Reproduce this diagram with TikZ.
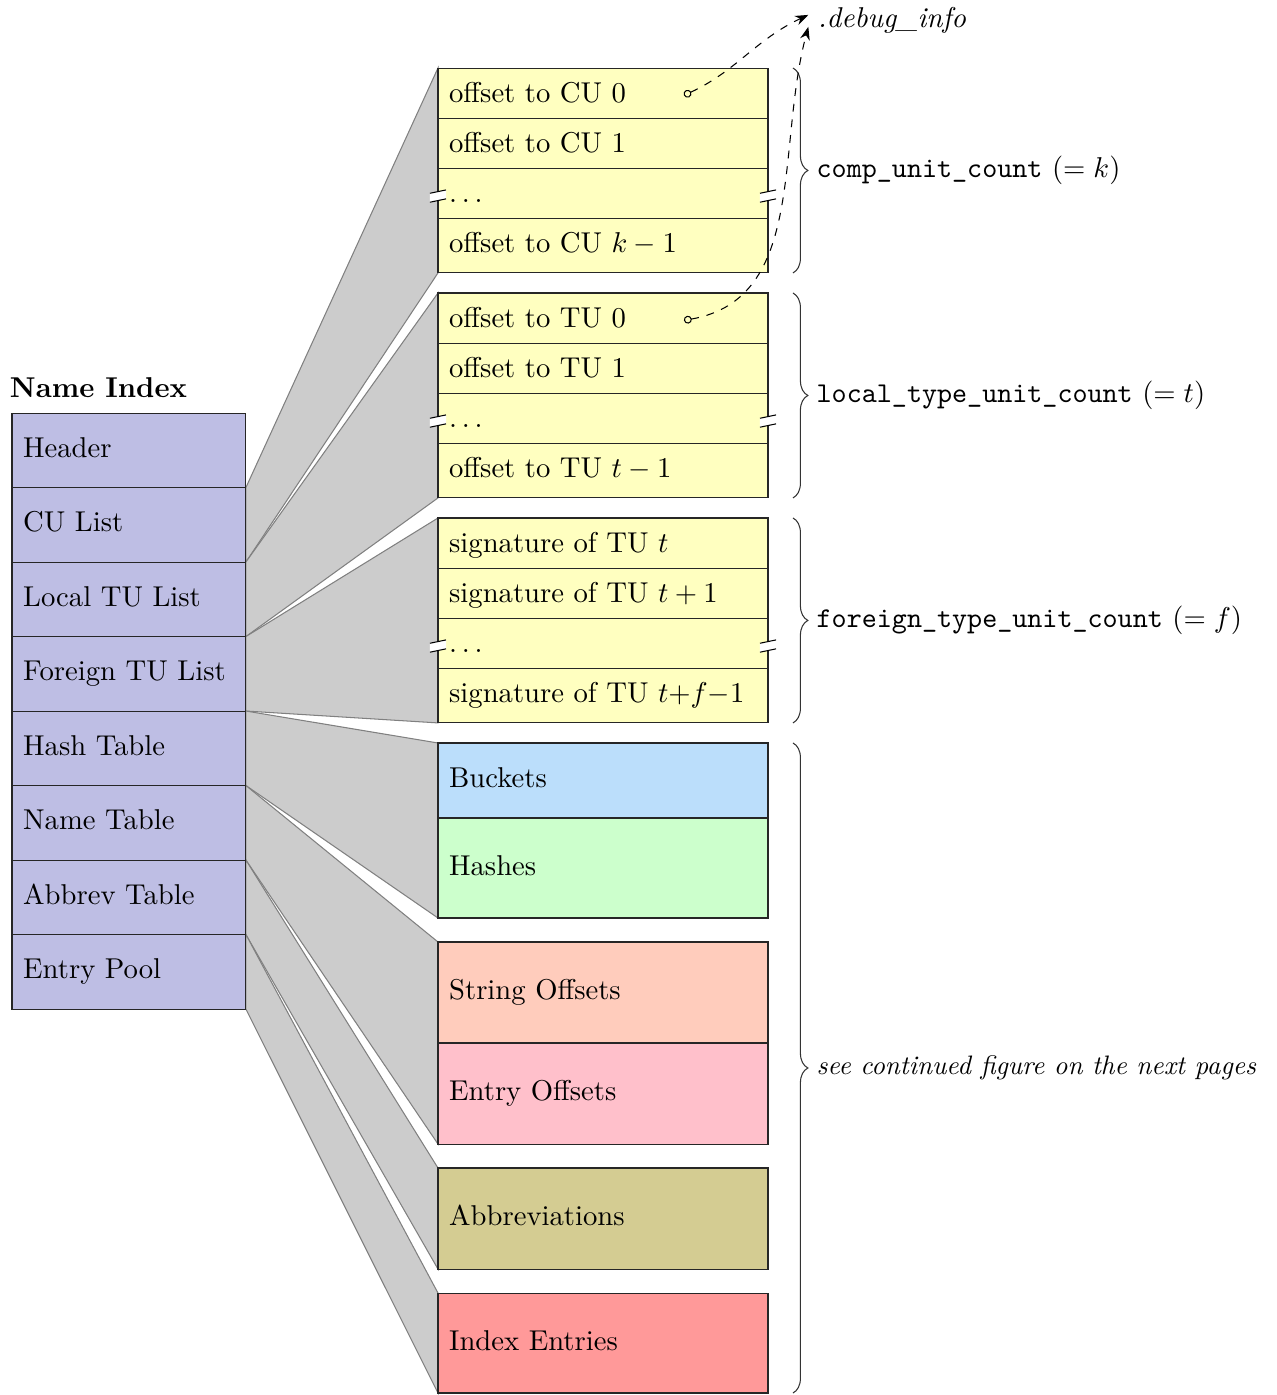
\documentclass[tikz,border=0pt,11pt]{standalone}
\usetikzlibrary{arrows.meta,decorations.pathreplacing,backgrounds}

\definecolor{nameIdx}{RGB}{190,190,228}
\definecolor{unitList}{RGB}{255,255,192}
\definecolor{bucketCol}{RGB}{187,222,251}
\definecolor{hashCol}{RGB}{204,255,204}
\definecolor{strOffCol}{RGB}{255,204,188}
\definecolor{entOffCol}{RGB}{255,192,203}
\definecolor{abbrevCol}{RGB}{212,204,146}
\definecolor{entryCol}{RGB}{255,153,153}

% small white break across a cell border
\newcommand\cellbreak[1]{%
  \fill[white] ([shift={(-0.108,-0.09)}]#1) -- ++(0.216,0.045) -- ++(0,0.12)
    -- ++(-0.216,-0.045) -- cycle;
  \draw ([shift={(-0.108,-0.09)}]#1) -- ++(0.216,0.045)
        ([shift={(-0.108,0.03)}]#1) -- ++(0.216,0.045);
}

\begin{document}
\begin{tikzpicture}
  [every node/.style={outer sep=0pt},
   idxBox/.style={draw=black!85,fill=nameIdx,anchor=north west,text width=2.84cm,
     inner xsep=0.15cm,align=left,minimum height=1cm,execute at begin node=\strut},
   unitBox/.style={draw=black!85,fill=unitList,anchor=north west,text width=4.13cm,
     inner xsep=0.15cm,align=left,minimum height=0.672cm,execute at begin node=\strut},
   funnel/.style={fill=gray!40,draw=gray},
   countBrace/.style={decorate,decoration={brace,amplitude=0.2cm},draw=black!80},
   ptr/.style={dashed,{Circle[open,length=3pt]}-{Stealth[length=5pt]}}]
  \useasboundingbox (0,0) rectangle (17.141,-18.725);

  %% the index itself
  \node[anchor=base west,inner sep=0pt,font=\bfseries] (title) at (0.134,-5.342) {Name Index};
  \foreach \nodeName/\nodeText [count=\i] in {header/Header,cuList/CU List,
      localList/Local TU List,foreignList/Foreign TU List,hashTable/Hash Table,
      nameTable/Name Table,abbrevTable/Abbrev Table,entryPool/Entry Pool}
    \node[idxBox] (\nodeName) at (0.161,{-5.544-(\i-1)}) {\nodeText};

  %% unit lists
  \foreach \nodeName/\nodeText [count=\i] in {cuA/offset to CU 0,cuB/offset to CU 1,
      cuC/$\ldots$,cuD/offset to CU $k-1$}
    \node[unitBox] (\nodeName) at (5.879,{-0.913-0.672*(\i-1)}) {\nodeText};
  \foreach \nodeName/\nodeText [count=\i] in {tuA/offset to TU 0,tuB/offset to TU 1,
      tuC/$\ldots$,tuD/offset to TU $t-1$}
    \node[unitBox] (\nodeName) at (5.879,{-3.933-0.672*(\i-1)}) {\nodeText};
  \foreach \nodeName/\nodeText [count=\i] in {sigA/signature of TU $t$,
      sigB/signature of TU $t+1$,sigC/$\ldots$,sigD/signature of TU $t{+}f{-}1$}
    \node[unitBox] (\nodeName) at (5.879,{-6.953-0.672*(\i-1)}) {\nodeText};

  %% tables
  \node[unitBox,fill=bucketCol,minimum height=1.007cm] (buckets) at (5.879,-9.973) {Buckets};
  \node[unitBox,fill=hashCol,minimum height=1.342cm] (hashes) at (buckets.south west) {Hashes};
  \node[unitBox,fill=strOffCol,minimum height=1.356cm] (strOffsets) at (5.879,-12.644) {String Offsets};
  \node[unitBox,fill=entOffCol,minimum height=1.356cm] (entOffsets) at (strOffsets.south west) {Entry Offsets};
  \node[unitBox,fill=abbrevCol,minimum height=1.356cm] (abbrevs) at (5.879,-15.678) {Abbreviations};
  \node[unitBox,fill=entryCol,minimum height=1.342cm] (idxEntries) at (5.879,-17.356) {Index Entries};

  \begin{scope}[on background layer]
    \foreach \srcNode/\firstNode/\lastNode in {cuList/cuA/cuD,localList/tuA/tuD,
        foreignList/sigA/sigD,hashTable/buckets/hashes,nameTable/strOffsets/entOffsets,
        abbrevTable/abbrevs/abbrevs,entryPool/idxEntries/idxEntries}
      \filldraw[funnel] (\srcNode.north east) -- (\firstNode.north west)
        -- (\lastNode.south west) -- (\srcNode.south east) -- cycle;
  \end{scope}

  \foreach \dotRow in {cuC,tuC,sigC}
  {
    \cellbreak{\dotRow.west}
    \cellbreak{\dotRow.east}
  }

  %% counts
  \draw[countBrace] ([xshift=0.335cm]cuA.north east) -- node[right=0.19cm] (cuCount)
    {\texttt{comp\_unit\_count} $(=k)$} ([xshift=0.335cm]cuD.south east);
  \draw[countBrace] ([xshift=0.335cm]tuA.north east) -- node[right=0.19cm] (tuCount)
    {\texttt{local\_type\_unit\_count} $(=t)$} ([xshift=0.335cm]tuD.south east);
  \draw[countBrace] ([xshift=0.335cm]sigA.north east) -- node[right=0.19cm] (sigCount)
    {\texttt{foreign\_type\_unit\_count} $(=f)$} ([xshift=0.335cm]sigD.south east);
  \draw[countBrace] ([xshift=0.335cm]buckets.north east) -- node[right=0.19cm,
      font=\fontsize{10.2}{12}\selectfont\itshape] (contNote)
    {see continued figure on the next pages} ([xshift=0.335cm]idxEntries.south east);

  %% pointers into .debug_info
  \node[anchor=west,font=\itshape] (debugInfo) at (10.85,-0.27) {.debug\_info};
  \coordinate (cuPtr) at ([xshift=-1.128cm]cuA.east);
  \coordinate (tuPtr) at ([xshift=-1.128cm]tuA.east);
  \draw[ptr] (cuPtr) to[out=25,in=205] ([yshift=0.07cm]debugInfo.west);
  \draw[ptr] (tuPtr) to[out=10,in=255] ([yshift=-0.09cm]debugInfo.west);
\end{tikzpicture}
\end{document}
